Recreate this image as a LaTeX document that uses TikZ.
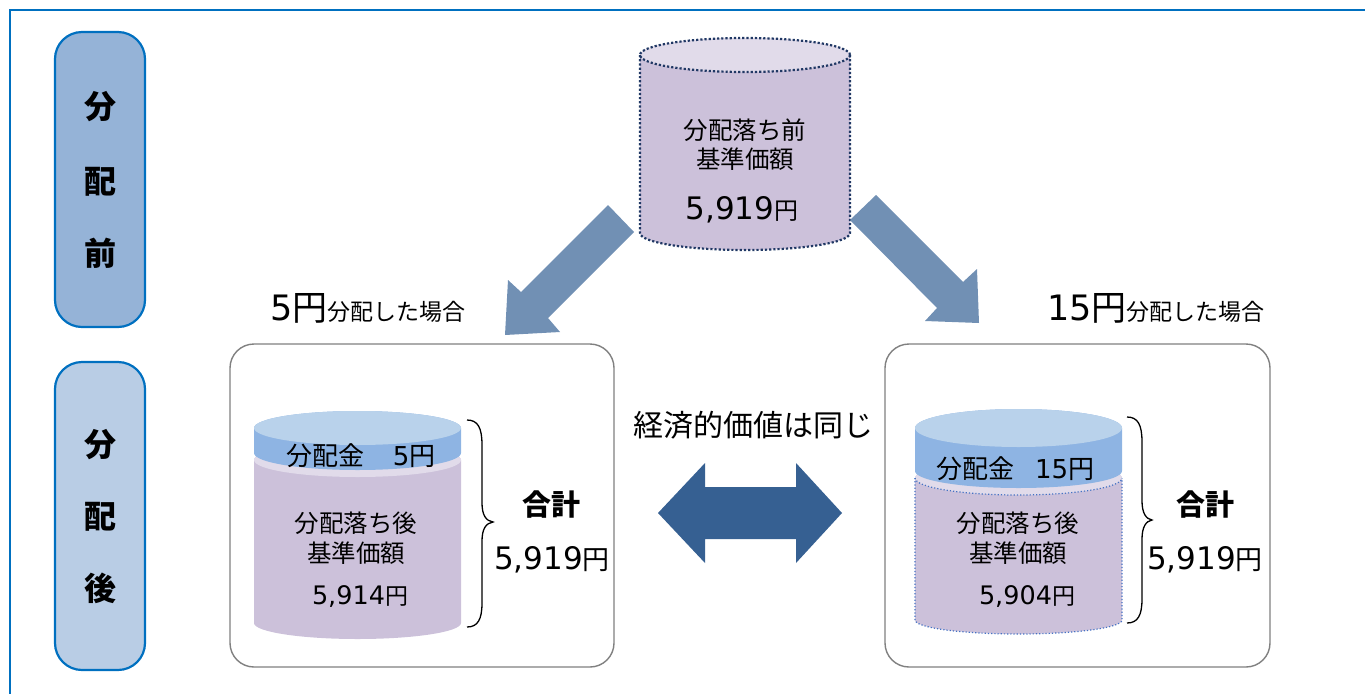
\documentclass[tikz,border=0pt]{standalone}
\usepackage{fontspec}
\setmainfont{DejaVu Sans}
\newfontfamily\jp{Noto Sans CJK JP}
\usetikzlibrary{positioning}
\definecolor{frameblue}{RGB}{0,112,192}
\definecolor{prefill}{RGB}{149,179,215}
\definecolor{postfill}{RGB}{185,205,229}
\definecolor{purplebody}{RGB}{204,193,218}
\definecolor{purpletop}{RGB}{225,219,234}
\definecolor{navy}{RGB}{32,56,100}
\definecolor{dotblue}{RGB}{68,114,196}
\definecolor{bandblue}{RGB}{142,180,227}
\definecolor{topblue}{RGB}{185,210,235}
\definecolor{arrowblue}{RGB}{113,144,180}
\definecolor{darkarrow}{RGB}{54,96,146}
\definecolor{boxgray}{RGB}{128,128,128}
\tikzset{
  labelbox/.style={draw=frameblue, line width=2.2pt, rounded corners=27pt, minimum width=90pt, inner sep=0pt},
  labelchar/.style={font=\jp\bfseries\fontsize{32}{34}\selectfont},
  casebox/.style={draw=boxgray, line width=1.4pt, rounded corners=24pt},
  jtext/.style={font=\jp\fontsize{24.5}{28}\selectfont, inner sep=0pt},
  bigtext/.style={font=\fontsize{31}{34}\selectfont, inner sep=0pt},
  midtext/.style={font=\fontsize{25.5}{28}\selectfont, inner sep=0pt},
  tottext/.style={font=\fontsize{31}{34}\selectfont, inner sep=0pt},
  sumtext/.style={font=\jp\bfseries\fontsize{29}{32}\selectfont, inner sep=0pt},
  fatarrow/.style={fill=arrowblue, draw=none},
  bracestyle/.style={draw=black, line width=1.3pt}
}
\begin{document}
\begin{tikzpicture}[x=1pt,y=-1pt]
\useasboundingbox (0,0) rectangle (1365,694);
% outer frame
\draw[frameblue, line width=2pt] (1365,10) -- (10,10) -- (10,694);

% left labels
\node[labelbox, fill=prefill, minimum height=295pt] (pre) at (100,179.5) {};
\node[labelchar] (pre1) at (100,107) {分};
\node[labelchar] (pre2) at (100,182) {配};
\node[labelchar] (pre3) at (100,253) {前};
\node[labelbox, fill=postfill, minimum height=308pt] (post) at (100,516) {};
\node[labelchar] (post1) at (100,445) {分};
\node[labelchar] (post2) at (100,517) {配};
\node[labelchar] (post3) at (100,588) {後};

% top cylinder
\path[fill=purplebody] (640,55) -- (640,233) arc[start angle=180,end angle=0,x radius=105,y radius=17] -- (850,55) arc[start angle=0,end angle=-180,x radius=105,y radius=17] -- cycle;
\path[fill=purpletop] (745,55) ellipse[x radius=105,y radius=17];
\draw[navy, line width=2.2pt, dotted] (640,55) -- (640,233) arc[start angle=180,end angle=0,x radius=105,y radius=17] -- (850,55);
\draw[navy, line width=2.2pt, dotted] (745,55) ellipse[x radius=105,y radius=17];
\node[jtext] (pre-a) at (745,130) {分配落ち前};
\node[jtext] (pre-b) at (745,159) {基準価額};
\node[bigtext] (pre-v) at (742,210) {5,919{\jp\fontsize{24}{26}\selectfont 円}};

% diagonal arrows
\path[fatarrow] (608,205) -- (634,232) -- (548,318) -- (560,332) -- (505,335) -- (508,280) -- (521,292) -- cycle;
\path[fatarrow] (876,195) -- (850,220) -- (937,308) -- (925,321) -- (979,323) -- (977,269) -- (963,282) -- cycle;

% case titles
\node[anchor=base west, inner sep=0pt] (t5) at (270,320) {\fontsize{35}{38}\selectfont 5{\jp 円}{\jp\fontsize{23}{26}\selectfont 分配した場合}};
\node[anchor=base west, inner sep=0pt] (t15) at (1047,320) {\fontsize{35}{38}\selectfont 15{\jp 円}{\jp\fontsize{23}{26}\selectfont 分配した場合}};

% case boxes
\draw[casebox] (230,344) rectangle (614,667);
\draw[casebox] (885,344) rectangle (1270,667);

% left cylinders
\path[fill=purplebody] (254,460) -- (254,623) arc[start angle=180,end angle=0,x radius=103.5,y radius=16] -- (461,460) arc[start angle=0,end angle=-180,x radius=103.5,y radius=17] -- cycle;
\path[fill=purpletop] (357.5,460) ellipse[x radius=103.5,y radius=17];
\path[fill=bandblue] (254,428) -- (254,453) arc[start angle=180,end angle=0,x radius=103.5,y radius=17] -- (461,428) arc[start angle=0,end angle=-180,x radius=103.5,y radius=17] -- cycle;
\path[fill=topblue] (357.5,428) ellipse[x radius=103.5,y radius=17];
\node[font=\jp\fontsize{26}{28}\selectfont, inner sep=0pt, anchor=base west] (l-div) at (286,465) {分配金\hspace{1.1em}{\fontspec{DejaVu Sans}5}円};
\node[jtext] (l-a) at (356,523) {分配落ち後};
\node[jtext] (l-b) at (356,553) {基準価額};
\node[midtext] (l-v) at (360,597) {5,914{\jp\fontsize{23}{24}\selectfont 円}};

% left brace
\draw[bracestyle] (467,420) .. controls (478,420) and (482,428) .. (482,445) -- (482,503) .. controls (482,515) and (486,521) .. (493,522) .. controls (486,523) and (482,529) .. (482,541) -- (482,603) .. controls (482,619) and (478,627) .. (467,627);
\node[sumtext] (l-sum) at (551,505) {合計};
\node[tottext] (l-tot) at (552,560) {5,919{\jp\fontsize{27}{28}\selectfont 円}};

% right cylinders
\path[fill=purplebody] (915,478) -- (915,620) arc[start angle=180,end angle=0,x radius=103.5,y radius=14] -- (1122,478) arc[start angle=0,end angle=-180,x radius=103.5,y radius=17] -- cycle;
\path[fill=purpletop] (1018.5,478) ellipse[x radius=103.5,y radius=17];
\draw[dotblue, line width=1.2pt, dotted] (915,478) -- (915,620) arc[start angle=180,end angle=0,x radius=103.5,y radius=14] -- (1122,478);
\draw[dotblue, line width=1.2pt, dotted] (915,478) arc[start angle=180,end angle=0,x radius=103.5,y radius=17];
\path[fill=bandblue] (915,428) -- (915,471) arc[start angle=180,end angle=0,x radius=103.5,y radius=17] -- (1122,428) arc[start angle=0,end angle=-180,x radius=103.5,y radius=19] -- cycle;
\path[fill=topblue] (1018.5,428) ellipse[x radius=103.5,y radius=19];
\node[font=\jp\fontsize{26}{28}\selectfont, inner sep=0pt, anchor=base west] (r-div) at (936,478) {分配金\hspace{0.8em}{\fontspec{DejaVu Sans}15}円};
\node[jtext] (r-a) at (1018,523) {分配落ち後};
\node[jtext] (r-b) at (1018,553) {基準価額};
\node[midtext] (r-v) at (1027,597) {5,904{\jp\fontsize{23}{24}\selectfont 円}};

% right brace
\draw[bracestyle] (1127,417) .. controls (1138,417) and (1142,425) .. (1142,442) -- (1142,501) .. controls (1142,513) and (1146,519) .. (1152,520) .. controls (1146,521) and (1142,527) .. (1142,539) -- (1142,599) .. controls (1142,615) and (1138,623) .. (1127,623);
\node[sumtext] (r-sum) at (1205,505) {合計};
\node[tottext] (r-tot) at (1205,560) {5,919{\jp\fontsize{27}{28}\selectfont 円}};

% equal value
\node[font=\jp\fontsize{30}{32}\selectfont, inner sep=0pt] (same) at (753,425) {経済的価値は同じ};
\path[fill=darkarrow] (658,513) -- (705,463) -- (705,487) -- (796,487) -- (796,463) -- (842,513) -- (796,563) -- (796,539) -- (705,539) -- (705,563) -- cycle;
\end{tikzpicture}
\end{document}
